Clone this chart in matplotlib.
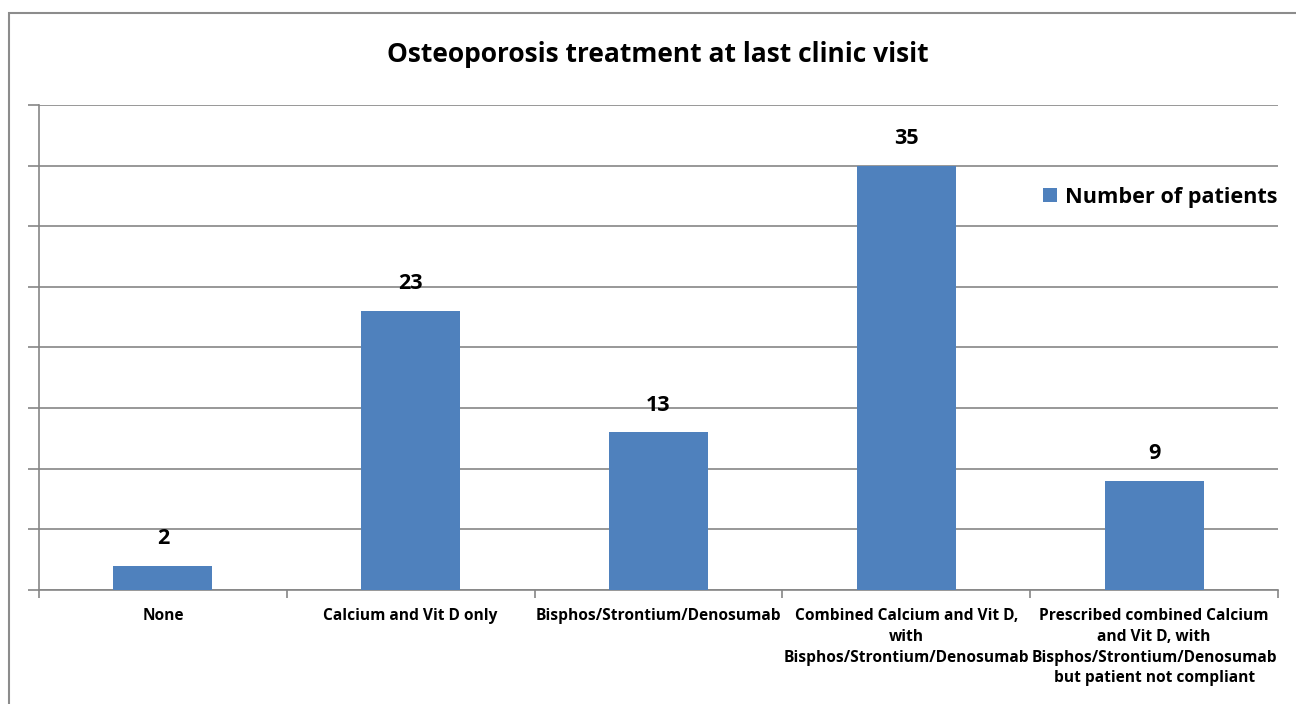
import numpy as np
import matplotlib.pyplot as plt
from matplotlib.patches import Rectangle

# data
categories = [
    'None',
    'Calcium and Vit D only',
    'Bisphos/Strontium/Denosumab',
    'Combined Calcium and Vit D,\nwith\nBisphos/Strontium/Denosumab',
    'Prescribed combined Calcium\nand Vit D, with\nBisphos/Strontium/Denosumab\nbut patient not compliant',
]
patients = [2, 23, 13, 35, 9]

plt.rcParams['font.family'] = ['Open Sans', 'DejaVu Sans']
bar_color = '#4F81BD'
grid_color = '#868686'

fig = plt.figure(figsize=(12.96, 7.04), dpi=100)
ax = fig.add_axes([39 / 1296, 1 - 590 / 704, (1278 - 39) / 1296, (590 - 105) / 704])

# outer chart border (left and top visible)
fig.patches.append(Rectangle((9 / 1296, -0.1), 1.2, 1 - 13 / 704 + 0.1,
                             transform=fig.transFigure, fill=False,
                             edgecolor='#8c8c8c', linewidth=1.5))

x = np.arange(len(categories))
bars = ax.bar(x, patients, width=0.4, color=bar_color, label='Number of patients', zorder=3)

for xi, v in zip(x, patients):
    ax.annotate(str(v), (xi, v), xytext=(0, 12), textcoords='offset points',
                ha='center', va='bottom', fontsize=15.5, fontweight='bold')

ax.set_xlim(-0.5, len(categories) - 0.5)
ax.set_ylim(0, 40)
ax.set_yticks(np.arange(0, 41, 5))
ax.set_yticklabels([])
ax.yaxis.grid(True, color=grid_color, linewidth=1.2, zorder=0)
ax.tick_params(axis='y', length=8, color=grid_color, width=1.2)

ax.set_xticks(x)
ax.set_xticklabels(categories, fontsize=11.2, fontweight='bold', linespacing=1.4)
ax.set_xticks(np.arange(-0.5, len(categories), 1), minor=True)
ax.tick_params(axis='x', which='major', length=0, pad=13)
ax.tick_params(axis='x', which='minor', length=6, color=grid_color, width=1.2)

for side in ['top', 'right']:
    ax.spines[side].set_visible(False)
for side in ['left', 'bottom']:
    ax.spines[side].set_color(grid_color)
    ax.spines[side].set_linewidth(1.2)

fig.text(658 / 1296, 1 - 55 / 704, 'Osteoporosis treatment at last clinic visit',
         ha='center', va='center', fontsize=19, fontweight='bold')

ax.legend(loc='center left', bbox_to_anchor=(1043 / 1296, 1 - 197 / 704),
          bbox_transform=fig.transFigure, frameon=False,
          prop={'size': 15.6, 'weight': 'bold'}, handlelength=0.65, handleheight=0.65,
          handletextpad=0.35, borderpad=0, borderaxespad=0)

fig.savefig('out.png', dpi=100)
